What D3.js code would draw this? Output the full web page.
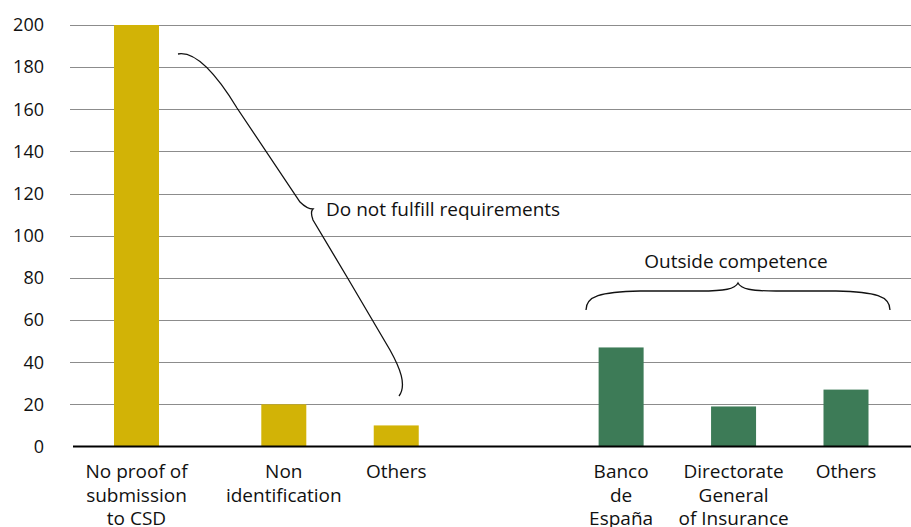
<!DOCTYPE html>
<html><head><meta charset="utf-8">
<script src="https://cdn.jsdelivr.net/npm/d3@7"></script>
<style>body{margin:0;background:#fff}svg{display:block}text{font-family:"Open Sans",sans-serif;fill:#111}</style>
</head><body><svg id="c" width="911" height="527"></svg>
<script>
// Data
const categories = [
  ["No proof of","submission","to CSD"],
  ["Non","identification"],
  ["Others"],
  ["Banco","de","España"],
  ["Directorate","General","of Insurance"],
  ["Others"]
];
const values = [200, 20, 10, 47, 19, 27];
const groups = ["req","req","req","out","out","out"];
const yTicks = [0,20,40,60,80,100,120,140,160,180,200];
const annotations = ["Do not fulfill requirements","Outside competence"];

const colors = {req:"#d2b306", out:"#3d7b57"};
const FS = 19;
const svg = d3.select("#c");
// layout slot for each category (gaps between groups)
const slot = [0, 1.31, 2.31, 4.31, 5.31, 6.31];
const x = d3.scaleLinear().domain([0, 6.31]).range([136.5, 846]);
const barW = 45;
const y = d3.scaleLinear().domain([0, 200]).range([446.5, 25]);

// grid
svg.append("g").selectAll("line").data(yTicks.filter(d=>d>0)).join("line")
  .attr("x1",70).attr("x2",911).attr("y1",d=>Math.round(y(d))+0.5).attr("y2",d=>Math.round(y(d))+0.5)
  .attr("stroke","#8c8c8c").attr("stroke-width",1);

// y labels
svg.append("g").selectAll("text").data(yTicks).join("text")
  .attr("x",44).attr("y",d=>y(d)).attr("dy","0.35em").attr("text-anchor","end")
  .attr("font-size",FS-1).text(d=>d);

// bars
svg.append("g").selectAll("rect").data(values).join("rect")
  .attr("x",(d,i)=>x(slot[i])-barW/2).attr("width",barW)
  .attr("y",d=>y(d)).attr("height",d=>y(0)-y(d))
  .attr("fill",(d,i)=>colors[groups[i]]);

// baseline
svg.append("line").attr("x1",73).attr("x2",911).attr("y1",y(0)).attr("y2",y(0))
  .attr("stroke","#000").attr("stroke-width",2);

// category labels
const lab = svg.append("g").selectAll("text").data(categories).join("text")
  .attr("text-anchor","middle").attr("font-size",FS)
  .attr("transform",(d,i)=>`translate(${x(slot[i])},478)`);
lab.selectAll("tspan").data(d=>d).join("tspan")
  .attr("x",0).attr("y",(d,j)=>j*23.5).text(d=>d);

// braces
svg.append("path")
  .attr("d","M178,54 C195,51 215,72 237,108 L300,202 Q307,209 313,209 Q310,212 313,220 L347,277 L390,350 C400,368 407,385 399,396")
  .attr("fill","none").attr("stroke","#111").attr("stroke-width",1.3);
svg.append("path")
  .attr("d","M586,310 C586,296 600,292 640,291 L700,291 C725,291 735,289 738,283 C741,289 751,291 776,291 L836,291 C876,292 890,296 890,310")
  .attr("fill","none").attr("stroke","#111").attr("stroke-width",1.3);

svg.append("text").attr("x",326).attr("y",216).attr("font-size",FS).text(annotations[0]);
svg.append("text").attr("x",736).attr("y",268).attr("text-anchor","middle").attr("font-size",FS).text(annotations[1]);
</script></body></html>
